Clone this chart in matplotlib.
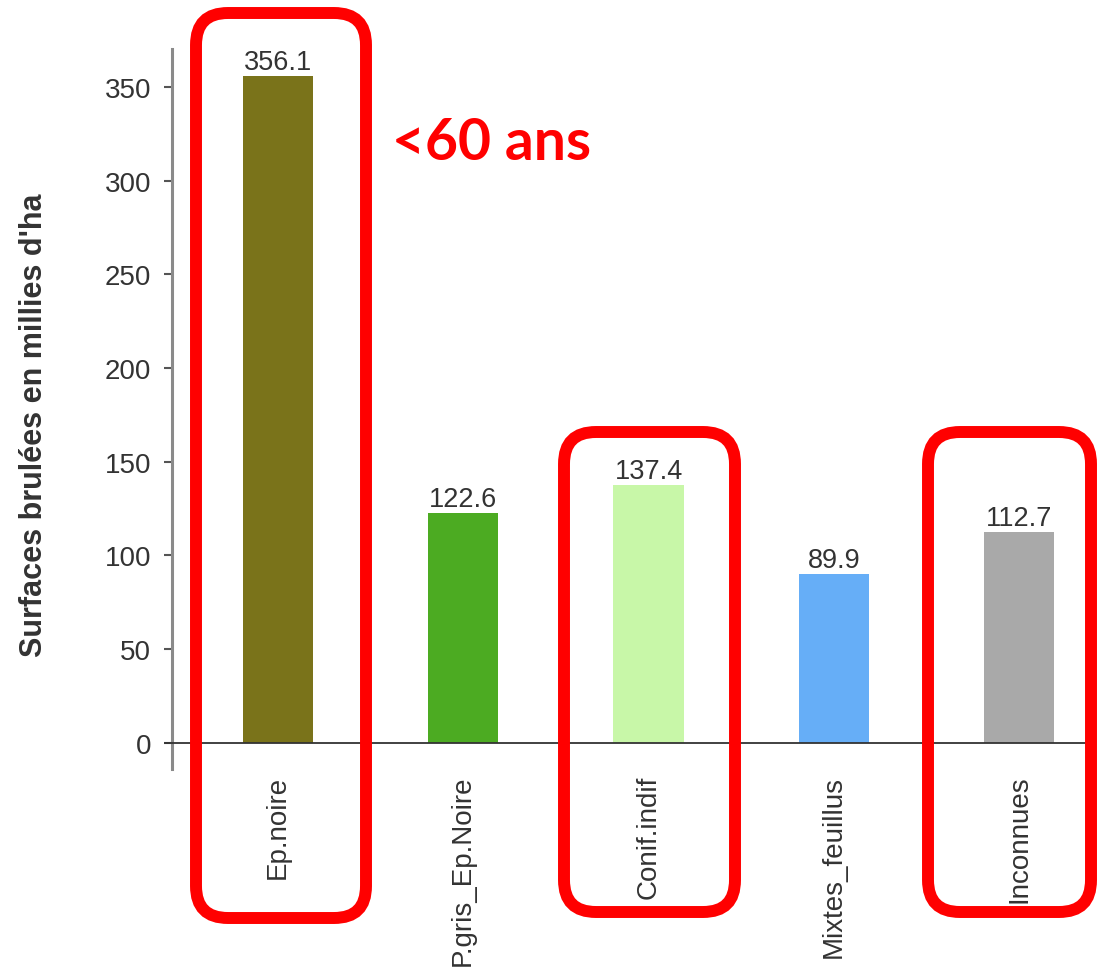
import matplotlib
matplotlib.use("Agg")
import matplotlib.pyplot as plt
from matplotlib.patches import FancyBboxPatch

categories = ["Ep.noire", "P.gris_Ep.Noire", "Conif.indif", "Mixtes_feuillus", "Inconnues"]
values = [356.1, 122.6, 137.4, 89.9, 112.7]
colors = ["#7a731a", "#4cab22", "#c8f7a8", "#66aef7", "#a9a9a9"]
yticks = [0, 50, 100, 150, 200, 250, 300, 350]
ylabel = "Surfaces brulées en millies d'ha"
annotation = "<60 ans"

W, H = 1097, 970
fig = plt.figure(figsize=(W / 100, H / 100), dpi=100)
fig.patch.set_facecolor("white")

ax = fig.add_axes([172 / W, 1 - 770 / H, (1090 - 172) / W, (770 - 50) / H])
x = list(range(len(categories)))
ax.bar(x, values, width=0.378, color=colors, zorder=2)
ax.set_xlim(-0.572, 4.383)
ax.set_ylim(-14, 370.3)

for xi, v in zip(x, values):
    ax.text(xi, v + 0.5, f"{v:.1f}", ha="center", va="bottom",
            fontsize=19.5, color="#333333", family="Liberation Sans")

ax.axhline(0, xmin=-0.008, xmax=1.0, color="#333333", lw=1.3, clip_on=False, zorder=3)

for s in ["top", "right", "bottom"]:
    ax.spines[s].set_visible(False)
ax.spines["left"].set_color("#8a8a8a")
ax.spines["left"].set_linewidth(2.2)

ax.set_yticks(yticks)
ax.set_yticklabels([str(t) for t in yticks], fontsize=20, color="#333333", family="Liberation Sans")
ax.tick_params(axis="y", length=6, width=1.5, color="#555555", pad=9)
ax.set_xticks(x)
ax.set_xticklabels(categories, rotation=90, fontsize=20, color="#333333",
                   family="Liberation Sans", va="top")
ax.tick_params(axis="x", length=0, pad=4)

fig.text(34 / W, 1 - 425 / H, ylabel, rotation=90, ha="center", va="center",
         fontsize=22, fontweight="bold", color="#333333", family="Liberation Sans")

# overlay in pixel coordinates
ov = fig.add_axes([0, 0, 1, 1], facecolor="none")
ov.set_xlim(0, W)
ov.set_ylim(H, 0)
ov.axis("off")

boxes = [(196, 14, 366, 919), (564, 433, 735, 913), (928, 433, 1091, 913)]
for (x0, y0, x1, y1) in boxes:
    p = FancyBboxPatch((x0, y0), x1 - x0, y1 - y0,
                       boxstyle="round,pad=0,rounding_size=32",
                       fill=False, edgecolor="#ff0000", linewidth=8.6, clip_on=False)
    ov.add_patch(p)

ov.text(492, 143, annotation, ha="center", va="center", fontsize=41,
        fontweight="bold", color="#ff0000", family="Lato")

fig.savefig("out.png", dpi=100)
